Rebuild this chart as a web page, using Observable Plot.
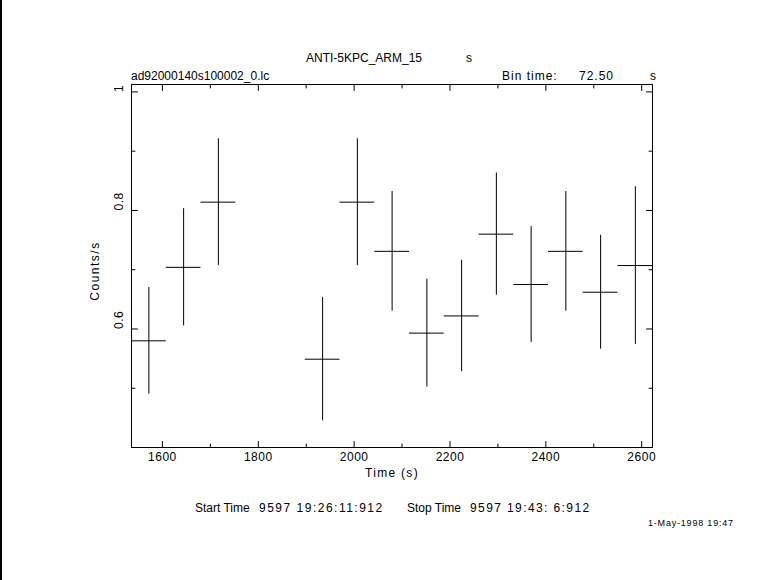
<!DOCTYPE html>
<html><head><meta charset="utf-8">
<script src="https://cdn.jsdelivr.net/npm/d3@7"></script>
<script src="https://cdn.jsdelivr.net/npm/@observablehq/plot@0.6"></script>
<style>
body{margin:0;background:#fff;}
#wrap{position:relative;width:781px;height:580px;overflow:hidden;font-family:"Liberation Sans",Arial,sans-serif;font-size:12px;color:#000;background:#fff;}
#wrap svg{position:absolute;left:0;top:0;}
.t{position:absolute;white-space:pre;line-height:1;transform:translateY(-50%);}
.c{transform:translate(-50%,-50%);}
#edge{position:absolute;left:0;top:0;width:2px;height:580px;background:#000;}
</style></head><body><div id="wrap"></div>
<script>
// ---- data ----
const binWidth = 72.5;
const binCenters = [1571.75, 1644.25, 1716.75, 1934.25, 2006.75, 2079.25, 2151.75, 2224.25, 2296.75, 2369.25, 2441.75, 2514.25, 2586.75];
const rates      = [0.580, 0.704, 0.814, 0.549, 0.814, 0.731, 0.593, 0.622, 0.760, 0.675, 0.731, 0.662, 0.707];
const rateErrors = [0.090, 0.099, 0.107, 0.104, 0.107, 0.101, 0.091, 0.094, 0.103, 0.098, 0.101, 0.096, 0.133];
const xMajorTicks = [1600, 1800, 2000, 2200, 2400, 2600];
const xTickLabels = ["1600", "1800", "2000", "2200", "2400", "2600"];
const xMinorTicks = [1700, 1900, 2100, 2300, 2500];
const yMajorTicks = [0.6, 0.8, 1.0];
const yTickLabels = ["0.6", "0.8", "1"];
const yMinorTicks = [0.5, 0.7, 0.9];

const data = binCenters.map((t, i) => ({t, r: rates[i], e: rateErrors[i]}));
const tickShape = {draw(ctx, l) { ctx.moveTo(0, 0); ctx.lineTo(0, -l); }};
const MAJ = 6, MIN = 3.5;
const vec = (arr, ch, anchor, rotate, len) => Plot.vector(arr, {[ch]: d => d, frameAnchor: anchor, rotate, length: len, anchor: "start", shape: tickShape, stroke: "black", strokeWidth: 1});

const chart = Plot.plot({
  width: 781, height: 580,
  marginLeft: 131, marginRight: 129, marginTop: 84, marginBottom: 133,
  style: {fontFamily: "'Liberation Sans', Arial, sans-serif", fontSize: "12px", background: "transparent", color: "black", letterSpacing: "0.5px"},
  x: {domain: [1535.5, 2622.5], axis: null},
  y: {domain: [0.4, 1.0125], axis: null},
  marks: [
    Plot.ruleY(data, {x1: d => d.t - binWidth / 2, x2: d => d.t + binWidth / 2, y: "r", stroke: "black", strokeWidth: 1, clip: true}),
    Plot.ruleX(data, {x: "t", y1: d => d.r - d.e, y2: d => d.r + d.e, stroke: "black", strokeWidth: 1, clip: true}),
    Plot.frame({stroke: "black", strokeWidth: 1}),
    vec(xMajorTicks, "x", "bottom", 0, MAJ),
    vec(xMinorTicks, "x", "bottom", 0, MIN),
    vec(xMajorTicks, "x", "top", 180, MAJ),
    vec(xMinorTicks, "x", "top", 180, MIN),
    vec(yMajorTicks, "y", "left", 90, MAJ),
    vec(yMinorTicks, "y", "left", 90, MIN),
    vec(yMajorTicks, "y", "right", -90, MAJ),
    vec(yMinorTicks, "y", "right", -90, MIN),
    Plot.text(xMajorTicks, {x: d => d, text: (d, i) => xTickLabels[i], frameAnchor: "bottom", dy: 13, fontSize: 12, fill: "black"}),
    Plot.text(yMajorTicks, {y: d => d, text: (d, i) => yTickLabels[i], frameAnchor: "left", dx: -12, rotate: -90, fontSize: 12, fill: "black"})
  ]
});
const wrap = document.getElementById("wrap");
wrap.appendChild(chart);

// [text, x, y, class, letterSpacing]
const labels = [
  ["ANTI-5KPC_ARM_15", 306, 58, "", 0],
  ["s", 466, 58, "", 0],
  ["ad92000140s100002_0.lc", 131, 76, "", 0],
  ["Bin time:", 502, 76, "", 1],
  ["72.50", 579, 76, "", 1],
  ["s", 650, 76, "", 0],
  ["Time (s)", 392, 473, "c", 1.3],
  ["Start Time", 195, 508, "", 0],
  ["9597 19:26:11:912", 259, 508, "", 1.5],
  ["Stop Time", 407, 508, "", 0],
  ["9597 19:43: 6:912", 470, 508, "", 1.4]
];
for (const [txt, x, y, cls, ls] of labels) {
  const d = document.createElement("div");
  d.className = "t " + cls;
  d.textContent = txt;
  d.style.left = x + "px"; d.style.top = y + "px";
  d.style.letterSpacing = ls + "px";
  wrap.appendChild(d);
}
const yl = document.createElement("div");
yl.className = "t";
yl.textContent = "Counts/s";
yl.style.left = "95px"; yl.style.top = "271px";
yl.style.letterSpacing = "1.5px";
yl.style.transform = "translate(-50%,-50%) rotate(-90deg)";
wrap.appendChild(yl);
const stamp = document.createElement("div");
stamp.className = "t";
stamp.textContent = "1-May-1998 19:47";
stamp.style.left = "648px"; stamp.style.top = "523px"; stamp.style.fontSize = "9px";
stamp.style.letterSpacing = "0.8px";
wrap.appendChild(stamp);
const edge = document.createElement("div");
edge.id = "edge";
wrap.appendChild(edge);
</script>
</body></html>
